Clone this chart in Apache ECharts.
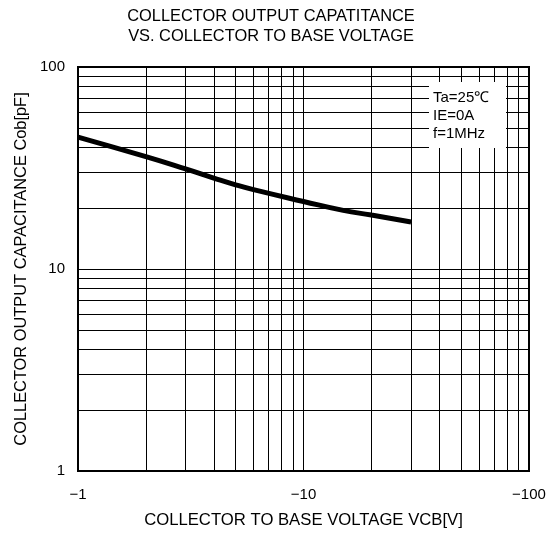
<!DOCTYPE html>
<html>
<head>
<meta charset="utf-8">
<script src="https://cdn.jsdelivr.net/npm/echarts@6/dist/echarts.min.js"></script>
<style>
  html, body { margin: 0; padding: 0; background: #fff; }
  #main { width: 558px; height: 534px; }
</style>
</head>
<body>
<div id="main"></div>
<script>
// VCB magnitude (plotted as negative volts) vs Cob
const vcb = [1, 2, 3, 4, 5, 6, 10, 15, 20, 30];
const cob = [45, 36, 31.3, 28.2, 26.1, 24.7, 21.6, 19.5, 18.5, 17.1];

// minor grid lines (log decades 2..9)
const xMinor = [2, 3, 4, 5, 6, 7, 8, 9, 20, 30, 40, 50, 60, 70, 80, 90];
const yMinor = [2, 3, 4, 5, 6, 7, 8, 9, 20, 30, 40, 50, 60, 70, 80, 90];

const conditions = ['Ta=25\u2103', 'IE=0A', 'f=1MHz'];

const font = '"Liberation Sans", Arial, sans-serif';

const chart = echarts.init(document.getElementById('main'));

const lineData = vcb.map((v, i) => [v, cob[i]]);

const gridLines = [];
xMinor.forEach(v => gridLines.push({ xAxis: v }));
yMinor.forEach(v => gridLines.push({ yAxis: v }));

chart.setOption({
  animation: false,
  backgroundColor: '#fff',
  title: {
    text: 'COLLECTOR OUTPUT CAPATITANCE\nVS. COLLECTOR TO BASE VOLTAGE',
    left: 271,
    top: 6,
    padding: 0,
    textAlign: 'center',
    textStyle: {
      fontFamily: font,
      fontSize: 16.4,
      fontWeight: 'normal',
      color: '#000',
      lineHeight: 20
    }
  },
  grid: {
    left: 78,
    top: 67,
    right: 29,
    bottom: 61,
    show: true,
    borderColor: '#000',
    borderWidth: 2
  },
  xAxis: {
    type: 'log',
    logBase: 10,
    min: 1,
    max: 100,
    name: 'COLLECTOR TO BASE VOLTAGE VCB[V]',
    nameLocation: 'middle',
    nameGap: 41,
    nameTextStyle: { fontFamily: font, fontSize: 16.7, color: '#000' },
    axisLine: { show: false },
    axisTick: { show: false },
    axisLabel: {
      margin: 16,
      fontFamily: font,
      fontSize: 15,
      color: '#000',
      formatter: v => '\u2212' + v
    },
    splitLine: { show: true, lineStyle: { color: '#000', width: 1 } }
  },
  yAxis: {
    type: 'log',
    logBase: 10,
    min: 1,
    max: 100,
    name: 'COLLECTOR OUTPUT CAPACITANCE Cob[pF]',
    nameLocation: 'middle',
    nameGap: 43,
    nameRotate: 90,
    nameTextStyle: { fontFamily: font, fontSize: 16.4, color: '#000' },
    axisLine: { show: false },
    axisTick: { show: false },
    axisLabel: {
      margin: 13,
      fontFamily: font,
      fontSize: 15,
      color: '#000'
    },
    splitLine: { show: true, lineStyle: { color: '#000', width: 1 } }
  },
  series: [
    {
      type: 'line',
      data: lineData,
      smooth: true,
      symbol: 'none',
      lineStyle: { color: '#000', width: 5 },
      z: 5,
      markLine: {
        silent: true,
        symbol: 'none',
        label: { show: false },
        lineStyle: { color: '#000', width: 1, type: 'solid' },
        data: gridLines
      }
    }
  ],
  graphic: [
    {
      type: 'rect',
      left: 429,
      top: 82,
      z: 100,
      shape: { x: 0, y: 0, width: 77, height: 66 },
      style: { fill: '#fff' }
    },
    {
      type: 'text',
      left: 433,
      top: 89,
      z: 101,
      style: {
        text: conditions.join('\n'),
        font: '15px ' + font,
        lineHeight: 18,
        fill: '#000'
      }
    }
  ]
});
</script>
</body>
</html>
